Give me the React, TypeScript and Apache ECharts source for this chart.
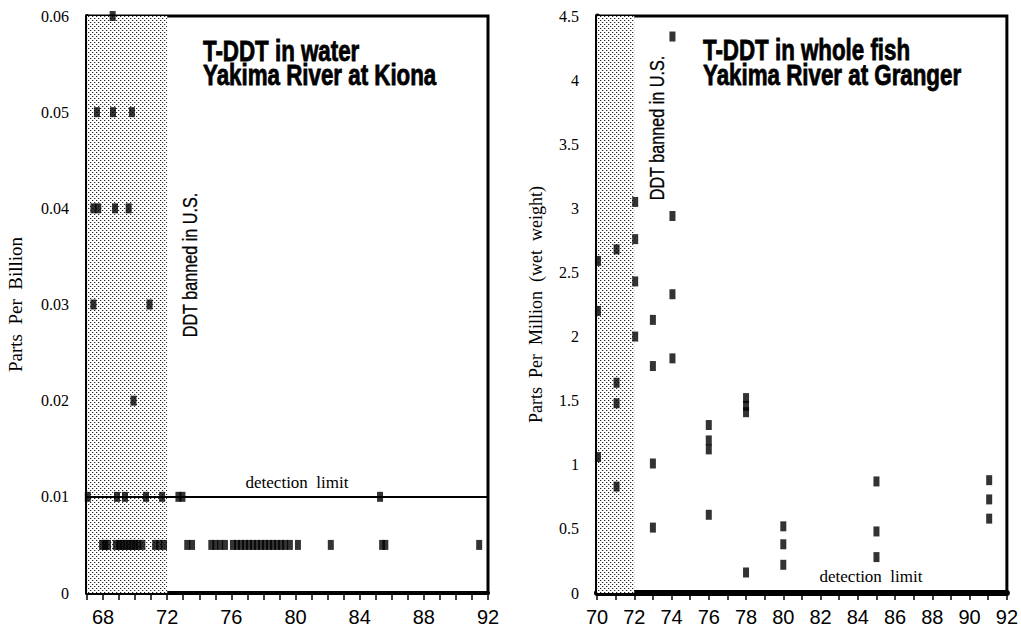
import React, { useEffect, useRef } from 'react';
import * as echarts from 'echarts';

// ---------- Data: T-DDT in water, Yakima River at Kiona (ppb) ----------
const water006 = [68.6];
const water005 = [67.62, 68.62, 69.8];
const water004 = [67.4, 67.7, 68.75, 69.6];
const water003 = [67.4, 70.9];
const water002 = [69.9];
const water001 = [67.05, 68.87, 69.37, 70.68, 71.68, 72.7, 72.95, 85.27];
const water0005 = [
  67.94, 68.12, 68.31, 68.8, 69.0, 69.2, 69.4, 69.6, 69.8, 70.0, 70.2, 70.45,
  71.25, 71.5, 71.8, 73.25, 73.55, 74.75, 75.0, 75.3, 75.6, 76.1, 76.35, 76.6,
  76.85, 77.1, 77.35, 77.6, 77.85, 78.1, 78.35, 78.6, 78.85, 79.1, 79.35, 79.65,
  80.15, 82.2, 85.4, 85.6, 91.45,
];
const waterLevels = [0.06, 0.05, 0.04, 0.03, 0.02, 0.01, 0.005];
const waterYearsByLevel = [water006, water005, water004, water003, water002, water001, water0005];
const detectionLimitWater = 0.01;

// ---------- Data: T-DDT in whole fish, Yakima River at Granger (ppm wet weight) ----------
const fishYears = [
  70.05, 70.05, 70.05,
  71.05, 71.05, 71.05, 71.05,
  72.05, 72.05, 72.05, 72.05,
  73.0, 73.0, 73.0, 73.0,
  74.05, 74.05, 74.05, 74.05,
  76.0, 76.0, 76.0, 76.0,
  78.0, 78.0, 78.0, 78.0,
  80.0, 80.0, 80.0,
  85.0, 85.0, 85.0,
  91.05, 91.05, 91.05,
];
const fishValues = [
  2.59, 2.2, 1.06,
  2.68, 1.64, 1.48, 0.83,
  3.05, 2.76, 2.43, 2.0,
  2.13, 1.77, 1.01, 0.51,
  4.34, 2.94, 2.33, 1.83,
  1.31, 1.19, 1.12, 0.61,
  1.52, 1.46, 1.41, 0.16,
  0.52, 0.38, 0.22,
  0.87, 0.48, 0.28,
  0.88, 0.73, 0.58,
];

const banStartWater = 67;
const banStartFish = 70;
const banEnd = 72;

const SERIF = "Liberation Serif";
const SANS = "Liberation Sans";

function makeStipple(): HTMLCanvasElement {
  const c = document.createElement('canvas');
  c.width = 4;
  c.height = 4;
  const ctx = c.getContext('2d')!;
  ctx.fillStyle = '#ffffff';
  ctx.fillRect(0, 0, 4, 4);
  ctx.fillStyle = '#222222';
  ctx.fillRect(0, 0, 1, 1);
  ctx.fillRect(2, 2, 1, 1);
  ctx.fillStyle = '#c8c8c8';
  ctx.fillRect(1, 0, 1, 1);
  ctx.fillRect(3, 2, 1, 1);
  return c;
}

export default function App() {
  const ref = useRef<HTMLDivElement>(null);

  useEffect(() => {
    if (!ref.current) return;
    const chart = echarts.init(ref.current, undefined, { renderer: 'svg' });
    const stipple = makeStipple();
    const patternFill: any = { image: stipple, repeat: 'repeat', imageWidth: 4, imageHeight: 4 };

    const waterData: number[][] = [];
    waterLevels.forEach((lvl, i) => {
      waterYearsByLevel[i].forEach((yr) => waterData.push([yr, lvl]));
    });
    const fishData = fishYears.map((yr, i) => [yr, fishValues[i]]);

    const xLabel = {
      color: '#000',
      fontFamily: SANS,
      fontSize: 20,
      margin: 14,
    };
    const yLabel = {
      color: '#000',
      fontFamily: SERIF,
      fontSize: 16,
      margin: 18,
    };

    const titleStyle = { fontFamily: SANS, fontWeight: 'bold', fontSize: 29, fill: '#000', stroke: '#000', lineWidth: 0.8, textVerticalAlign: 'middle' };
    const bannedStyle = { text: 'DDT banned in U.S.', fontFamily: SANS, fontSize: 20, fill: '#000', stroke: '#000', lineWidth: 0.3, textAlign: 'center', textVerticalAlign: 'middle' };
    const detStyle = { text: 'detection  limit', fontFamily: SERIF, fontSize: 17, fill: '#000', textAlign: 'center', textVerticalAlign: 'middle' };

    const option: any = {
      animation: false,
      backgroundColor: '#fff',
      grid: [
        { left: 87, right: 533, top: 16, bottom: 35, show: true, borderColor: '#000', borderWidth: 3 },
        { left: 597, right: 9, top: 16, bottom: 35, show: true, borderColor: '#000', borderWidth: 3 },
      ],
      xAxis: [
        {
          gridIndex: 0, type: 'value', min: 67, max: 92, interval: 1,
          axisLine: { onZero: false, lineStyle: { color: '#000', width: 4 } },
          axisTick: { show: true, length: 7, lineStyle: { color: '#000', width: 1.5 } },
          axisLabel: { ...xLabel, formatter: (v: number) => (v % 4 === 0 ? String(v) : '') },
          splitLine: { show: false },
        },
        {
          gridIndex: 1, type: 'value', min: 70, max: 92, interval: 1,
          axisLine: { onZero: false, lineStyle: { color: '#000', width: 6 } },
          axisTick: { show: true, length: 7, lineStyle: { color: '#000', width: 1.5 } },
          axisLabel: { ...xLabel, formatter: (v: number) => (v % 2 === 0 ? String(v) : '') },
          splitLine: { show: false },
        },
      ],
      yAxis: [
        {
          gridIndex: 0, type: 'value', min: 0, max: 0.06, interval: 0.01,
          name: 'Parts  Per  Billion', nameLocation: 'middle', nameGap: 62,
          nameTextStyle: { color: '#000', fontFamily: SERIF, fontSize: 19 },
          axisLine: { onZero: false, lineStyle: { color: '#000', width: 4 } },
          axisTick: { show: false },
          axisLabel: { ...yLabel, formatter: (v: number) => (v === 0 ? '0' : v.toFixed(2)) },
          splitLine: { show: false },
        },
        {
          gridIndex: 1, type: 'value', min: 0, max: 4.5, interval: 0.5,
          name: 'Parts  Per  Million  (wet  weight)', nameLocation: 'middle', nameGap: 52,
          nameTextStyle: { color: '#000', fontFamily: SERIF, fontSize: 18 },
          axisLine: { onZero: false, lineStyle: { color: '#000', width: 5 } },
          axisTick: { show: false },
          axisLabel: { ...yLabel, formatter: (v: number) => String(v) },
          splitLine: { show: false },
        },
      ],
      series: [
        {
          type: 'scatter', xAxisIndex: 0, yAxisIndex: 0,
          symbol: 'rect', symbolSize: [6, 10],
          itemStyle: { color: '#000' },
          data: waterData, z: 5,
          markArea: {
            silent: true,
            itemStyle: { color: patternFill },
            data: [[{ xAxis: banStartWater }, { xAxis: banEnd }]],
          },
          markLine: {
            silent: true, symbol: 'none',
            lineStyle: { color: '#000', width: 2, type: 'solid' },
            label: { show: false },
            data: [{ yAxis: detectionLimitWater }],
          },
        },
        {
          type: 'scatter', xAxisIndex: 1, yAxisIndex: 1,
          symbol: 'rect', symbolSize: [6, 10],
          itemStyle: { color: '#000' },
          data: fishData, z: 5,
          markArea: {
            silent: true,
            itemStyle: { color: patternFill },
            data: [[{ xAxis: banStartFish }, { xAxis: banEnd }]],
          },
        },
      ],
      graphic: [
        { type: 'text', x: 203, y: 51, scaleX: 0.77, style: { ...titleStyle, text: 'T-DDT in water' } },
        { type: 'text', x: 203, y: 75, scaleX: 0.77, style: { ...titleStyle, text: 'Yakima River at Kiona' } },
        { type: 'text', x: 703, y: 50, scaleX: 0.77, style: { ...titleStyle, text: 'T-DDT in whole fish' } },
        { type: 'text', x: 703, y: 75, scaleX: 0.77, style: { ...titleStyle, text: 'Yakima River at Granger' } },
        { type: 'text', x: 190, y: 265, rotation: Math.PI / 2, scaleX: 0.81, style: { ...bannedStyle } },
        { type: 'text', x: 657, y: 128, rotation: Math.PI / 2, scaleX: 0.81, style: { ...bannedStyle } },
        { type: 'text', x: 297, y: 482, style: { ...detStyle } },
        { type: 'text', x: 871, y: 576, style: { ...detStyle } },
      ],
    };

    chart.setOption(option);
    return () => chart.dispose();
  }, []);

  return (
    <div
      ref={ref}
      style={{ position: 'absolute', left: 0, top: 0, width: 1021, height: 628, background: '#fff' }}
    />
  );
}
